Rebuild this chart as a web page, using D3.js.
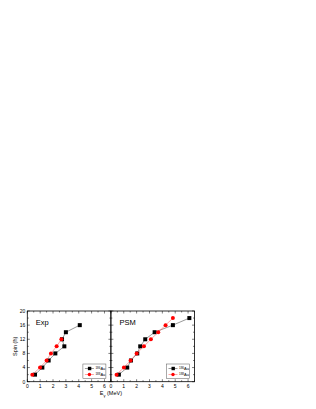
<!DOCTYPE html>
<html>
<head>
<meta charset="utf-8">
<script src="https://cdn.jsdelivr.net/npm/d3@7"></script>
<style>
  body { margin: 0; background: #fff; }
  svg { display: block; font-family: "Liberation Sans", Arial, sans-serif; }
</style>
</head>
<body>
<div id="plotSect"></div>
<script>
// data //
let spins = [2, 4, 6, 8, 10, 12, 14, 16, 18];
let expBlack = [0.6, 1.17, 1.66, 2.18, 2.88, 2.7, 3.0, 4.08];
let expRed = [0.39, 0.99, 1.5, 1.84, 2.28, 2.65];
let psmBlack = [0.62, 1.27, 1.56, 2.05, 2.28, 2.67, 3.4, 4.82, 6.1];
let psmRed = [0.44, 1.01, 1.53, 2.0, 2.57, 3.11, 3.68, 4.25, 4.82];
let panelNames = ["Exp", "PSM"];
let legendNames = ["186", "188"];
let xTicks = [0, 1, 2, 3, 4, 5, 6];
let yTicks = [0, 4, 8, 12, 16, 20];

let SVGwidth = 316, SVGheight = 409;
let plotTop = 311, plotBottom = 381.7, plotLeft = 27.3, panelW = 83.6;

let svg = d3.select("#plotSect").append("svg")
    .attr("width", SVGwidth)
    .attr("height", SVGheight);

let yScale = d3.scaleLinear().domain([0, 20]).range([plotBottom, plotTop]);

function pairs(xs) {
    return xs.map(function(x, i) { return {x: x, y: spins[i]}; });
}

let panels = [
    {name: panelNames[0], black: pairs(expBlack), red: pairs(expRed)},
    {name: panelNames[1], black: pairs(psmBlack), red: pairs(psmRed)}
];

panels.forEach(function(p, k) {
    let x0 = plotLeft + k * panelW;
    let xScale = d3.scaleLinear().domain([0, 6.5]).range([x0, x0 + panelW]);
    let g = svg.append("g");

    // frame
    g.append("rect")
        .attr("x", x0).attr("y", plotTop)
        .attr("width", panelW).attr("height", plotBottom - plotTop)
        .attr("fill", "none").attr("stroke", "#000").attr("stroke-width", 0.8);

    // ticks on all four sides, pointing in
    d3.range(0, 6.51, 0.5).forEach(function(v) {
        let len = (v % 1 === 0) ? 2.5 : 1.5;
        let px = xScale(v);
        g.append("line").attr("x1", px).attr("x2", px).attr("y1", plotBottom).attr("y2", plotBottom - len)
            .attr("stroke", "#000").attr("stroke-width", 0.5);
        g.append("line").attr("x1", px).attr("x2", px).attr("y1", plotTop).attr("y2", plotTop + len)
            .attr("stroke", "#000").attr("stroke-width", 0.5);
    });
    d3.range(0, 20.1, 2).forEach(function(v) {
        let len = (v % 4 === 0) ? 2.5 : 1.5;
        let py = yScale(v);
        g.append("line").attr("x1", x0).attr("x2", x0 + len).attr("y1", py).attr("y2", py)
            .attr("stroke", "#000").attr("stroke-width", 0.5);
        g.append("line").attr("x1", x0 + panelW).attr("x2", x0 + panelW - len).attr("y1", py).attr("y2", py)
            .attr("stroke", "#000").attr("stroke-width", 0.5);
    });

    // tick labels
    g.selectAll(".xl").data(xTicks).enter().append("text")
        .attr("x", function(d) { return xScale(d); })
        .attr("y", plotBottom + 6)
        .attr("text-anchor", "middle")
        .style("font-size", "5px")
        .text(function(d) { return d; });

    if (k === 0) {
        g.selectAll(".yl").data(yTicks).enter().append("text")
            .attr("x", x0 - 2)
            .attr("y", function(d) { return yScale(d) + 1.8; })
            .attr("text-anchor", "end")
            .style("font-size", "5px")
            .text(function(d) { return d; });
    }

    // series
    let line = d3.line().x(function(d) { return xScale(d.x); }).y(function(d) { return yScale(d.y); });
    g.append("path").datum(p.black).attr("d", line)
        .attr("fill", "none").attr("stroke", "#555").attr("stroke-width", 0.6);
    g.selectAll(".sq").data(p.black).enter().append("rect")
        .attr("x", function(d) { return xScale(d.x) - 2; })
        .attr("y", function(d) { return yScale(d.y) - 2; })
        .attr("width", 4).attr("height", 4)
        .attr("fill", "#000");
    g.append("path").datum(p.red).attr("d", line)
        .attr("fill", "none").attr("stroke", "#f66").attr("stroke-width", 0.6);
    g.selectAll(".ci").data(p.red).enter().append("circle")
        .attr("cx", function(d) { return xScale(d.x); })
        .attr("cy", function(d) { return yScale(d.y); })
        .attr("r", 2)
        .attr("fill", "#f00");

    // panel name
    g.append("text")
        .attr("x", x0 + 8.5).attr("y", plotTop + 14)
        .style("font-size", "7.5px")
        .text(p.name);

    // legend
    let lx = x0 + panelW - 28, ly = 364;
    g.append("rect").attr("x", lx).attr("y", ly).attr("width", 23).attr("height", 14.5)
        .attr("fill", "#fff").attr("stroke", "#555").attr("stroke-width", 0.5);
    legendNames.forEach(function(nm, i) {
        let yy = ly + 4.5 + i * 6;
        let col = i === 0 ? "#000" : "#f00";
        g.append("line").attr("x1", lx + 2).attr("x2", lx + 11).attr("y1", yy).attr("y2", yy)
            .attr("stroke", i === 0 ? "#555" : "#f66").attr("stroke-width", 0.6);
        if (i === 0) {
            g.append("rect").attr("x", lx + 5).attr("y", yy - 1.7).attr("width", 3.4).attr("height", 3.4).attr("fill", col);
        } else {
            g.append("circle").attr("cx", lx + 6.5).attr("cy", yy).attr("r", 1.7).attr("fill", col);
        }
        let t = g.append("text").attr("x", lx + 12.5).attr("y", yy + 1.5).style("font-size", "4px");
        t.append("tspan").attr("dy", -1.2).style("font-size", "3px").text(nm);
        t.append("tspan").attr("dy", 1.2).text("Au");
    });
});

// axis titles
let xt = svg.append("text")
    .attr("x", plotLeft + panelW)
    .attr("y", plotBottom + 13.5)
    .attr("text-anchor", "middle")
    .style("font-size", "5.5px");
xt.append("tspan").text("E");
xt.append("tspan").attr("dy", 1.3).style("font-size", "4px").text("\u03b3");
xt.append("tspan").attr("dy", -1.3).text(" (MeV)");

svg.append("text")
    .attr("transform", "translate(17," + ((plotTop + plotBottom) / 2) + ") rotate(-90)")
    .attr("text-anchor", "middle")
    .style("font-size", "5.5px")
    .text("Spin (\u0127)");
</script>
</body>
</html>
